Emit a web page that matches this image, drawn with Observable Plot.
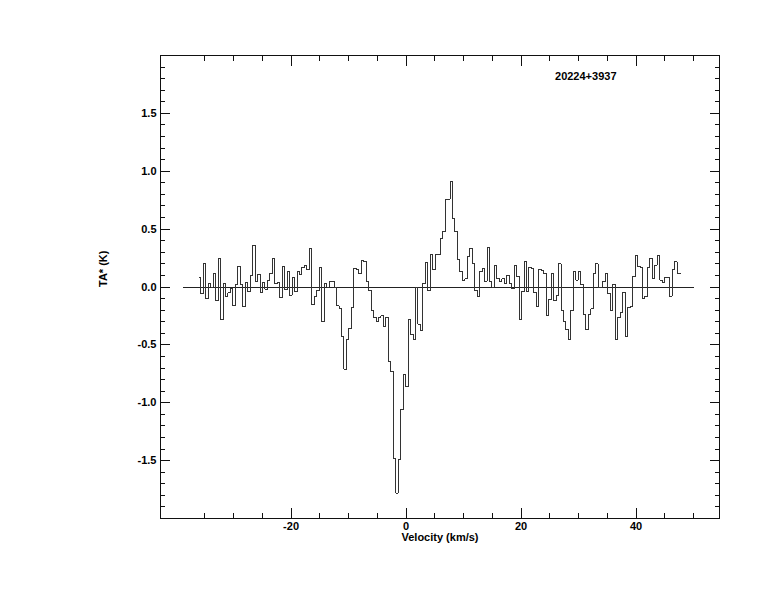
<!DOCTYPE html>
<html><head><meta charset="utf-8">
<script src="https://cdn.jsdelivr.net/npm/d3@7"></script>
<script src="https://cdn.jsdelivr.net/npm/@observablehq/plot@0.6"></script>
<style>body{margin:0;background:#fff}#chart svg{display:block}#chart svg path,#chart svg line,#chart svg rect{shape-rendering:crispEdges}</style>
</head><body><div id="chart"></div>
<script>
const sourceName = "20224+3937";
const xLabel = "Velocity (km/s)";
const yLabel = "TA* (K)";
// channel grid (km/s)
const v0 = -35.9;
const dv = 0.429;
// antenna temperature per channel (K)
const ta = [
 0.08,-0.06,0.20,-0.10,0.03,0.00,0.12,-0.12,0.25,-0.28,
 0.03,-0.08,-0.05,-0.01,-0.16,0.02,0.18,0.02,-0.17,0.04,
 -0.04,0.10,0.36,0.05,0.11,-0.05,0.04,-0.02,0.06,0.12,
 0.25,0.03,0.04,-0.09,0.18,-0.02,0.13,-0.07,0.08,-0.04,
 0.13,0.11,0.17,0.19,0.15,0.33,-0.15,-0.08,-0.03,0.17,
 -0.30,0.03,0.00,0.05,0.05,0.00,-0.16,-0.19,-0.43,-0.71,
 -0.45,-0.36,-0.18,0.16,0.15,0.12,0.23,0.22,0.05,-0.03,
 -0.20,-0.26,-0.30,-0.26,-0.25,-0.34,-0.26,-0.64,-0.73,-1.48,
 -1.78,-1.49,-1.06,-0.76,-0.86,-0.28,-0.41,-0.45,0.00,-0.32,
 -0.38,0.03,0.21,-0.03,0.28,0.15,0.28,0.28,0.42,0.48,
 0.76,0.76,0.91,0.59,0.48,0.24,0.13,0.06,0.07,0.26,
 0.33,0.20,-0.03,-0.08,0.13,0.16,0.05,0.34,0.05,0.00,
 0.19,0.07,0.05,0.07,0.03,0.10,0.03,-0.01,0.19,0.09,
 -0.28,-0.04,0.22,-0.04,0.17,0.16,-0.05,-0.17,0.15,0.14,
 0.12,-0.25,-0.11,0.12,-0.12,-0.07,0.20,-0.20,-0.30,-0.37,
 -0.45,-0.20,0.13,0.06,0.13,0.02,-0.24,-0.37,-0.24,-0.19,
 0.12,0.20,0.00,0.00,0.05,0.12,-0.06,-0.20,0.02,-0.45,
 -0.26,-0.22,-0.05,-0.43,-0.18,-0.17,0.09,0.27,0.18,0.17,
 -0.10,-0.08,0.17,0.25,0.07,0.19,0.27,0.06,0.04,0.08,
 0.08,-0.08,0.15,0.22,0.12,0.12
];
const zeroLineRange = [-38.7, 50.2];
const xDomain = [-42.7, 54.5];
const yDomain = [-2, 2];
const xMajorTicks = [-20, 0, 20, 40];
const xMinorTicks = [-35,-30,-25,-15,-10,-5,5,10,15,25,30,35,45,50];
const yMajorTicks = [-1.5,-1.0,-0.5,0.0,0.5,1.0,1.5];
const yMinorTicks = [-1.9,-1.8,-1.7,-1.6,-1.4,-1.3,-1.2,-1.1,-0.9,-0.8,-0.7,-0.6,-0.4,-0.3,-0.2,-0.1,
  0.1,0.2,0.3,0.4,0.6,0.7,0.8,0.9,1.1,1.2,1.3,1.4,1.6,1.7,1.8,1.9];

const spectrum = ta.map((t, i) => ({v: v0 + i * dv, t}));
const blank = () => "";
const tx = (ticks, anchor, size) => Plot.axisX({ticks, anchor, tickSize: -size, tickFormat: blank, label: null, stroke: "#111"});
const ty = (ticks, anchor, size) => Plot.axisY({ticks, anchor, tickSize: -size, tickFormat: blank, label: null, stroke: "#111"});

const chart = Plot.plot({
  width: 774,
  height: 612,
  marginLeft: 160,
  marginRight: 55,
  marginTop: 55,
  marginBottom: 94,
  x: {domain: xDomain},
  y: {domain: yDomain},
  style: {fontFamily: "'Liberation Sans', Arial, sans-serif", fontSize: "11px", fontWeight: "bold", background: "#fff", color: "#000"},
  marks: [
    Plot.frame({stroke: "#111"}),
    tx(xMajorTicks, "bottom", 10), tx(xMinorTicks, "bottom", 5),
    tx(xMajorTicks, "top", 10), tx(xMinorTicks, "top", 5),
    ty(yMajorTicks, "left", 10), ty(yMinorTicks, "left", 5),
    ty(yMajorTicks, "right", 10), ty(yMinorTicks, "right", 5),
    Plot.axisX({ticks: xMajorTicks, anchor: "bottom", tickSize: 0, tickPadding: 4, tickFormat: d => String(d), label: null}),
    Plot.axisY({ticks: yMajorTicks, anchor: "left", tickSize: 0, tickPadding: 4, tickFormat: d => d.toFixed(1), label: null}),
    Plot.ruleY([0], {x1: zeroLineRange[0], x2: zeroLineRange[1], stroke: "#222", strokeWidth: 1}),
    Plot.line(spectrum, {x: "v", y: "t", curve: "step", stroke: "#333", strokeWidth: 1}),
    Plot.text([xLabel], {frameAnchor: "bottom", dy: 19, lineAnchor: "middle", fontSize: 11, fontWeight: "bold"}),
    Plot.text([yLabel], {frameAnchor: "left", dx: -57, rotate: -90, lineAnchor: "middle", fontSize: 11, fontWeight: "bold"}),
    Plot.text([sourceName], {frameAnchor: "top-right", dx: -103, dy: 21, textAnchor: "end", lineAnchor: "middle", fontSize: 11, fontWeight: "bold"})
  ]
});
document.getElementById("chart").appendChild(chart);
</script>
</body></html>
